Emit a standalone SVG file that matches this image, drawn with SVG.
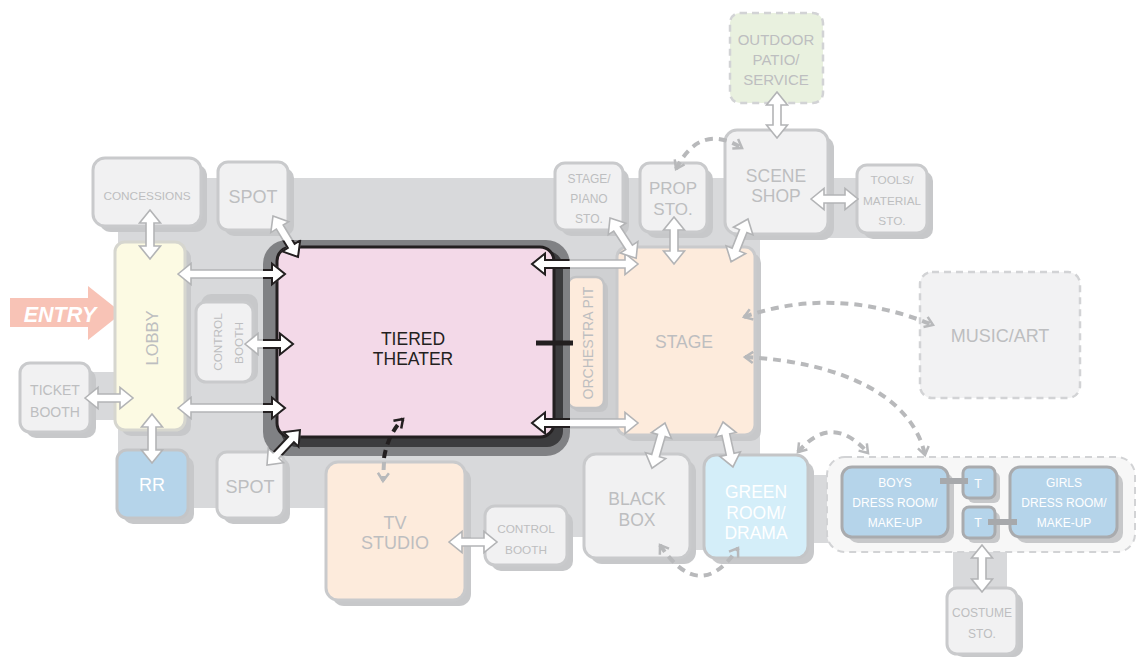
<svg xmlns="http://www.w3.org/2000/svg" xmlns:xlink="http://www.w3.org/1999/xlink" width="1143" height="658" viewBox="0 0 1143 658">
<style>
text{font-family:"Liberation Sans",Arial,sans-serif;text-anchor:middle}
.t{fill:#bdbec0}
.w{fill:#ffffff}
.box{fill:#f1f1f2;stroke:#c9cacc;stroke-width:3}
.sh{fill:#c7c8ca}
.peach{fill:#fdebdc;stroke:#c9cacc;stroke-width:3}
.blue{fill:#b5d4ea;stroke:#a9abae;stroke-width:3}
.dsh{fill:none;stroke:#b8b9bb;stroke-width:4;stroke-dasharray:8 6}
.arr{fill:#ffffff;stroke:#b3b4b6;stroke-width:1.6;stroke-linejoin:miter}
.arrb{fill:#ffffff;stroke:#231f20;stroke-width:2;stroke-linejoin:miter}
</style>
<defs>
<polygon id="a46" points="0,0 13,-10.5 13,-4 33,-4 33,-10.5 46,0 33,10.5 33,4 13,4 13,10.5"/>
<polygon id="a47" points="0,0 13,-10.5 13,-4 34,-4 34,-10.5 47,0 34,10.5 34,4 13,4 13,10.5"/>
<polygon id="a48" points="0,0 13,-10.5 13,-4 35,-4 35,-10.5 48,0 35,10.5 35,4 13,4 13,10.5"/>
<polygon id="a49" points="0,0 13,-10.5 13,-4 36,-4 36,-10.5 49,0 36,10.5 36,4 13,4 13,10.5"/>
<polygon id="a106" points="0,0 13,-10.5 13,-4 93,-4 93,-10.5 106,0 93,10.5 93,4 13,4 13,10.5"/>
<polygon id="a107" points="0,0 13,-10.5 13,-4 94,-4 94,-10.5 107,0 94,10.5 94,4 13,4 13,10.5"/>
<clipPath id="thClip"><rect x="263" y="240" width="307" height="216" rx="24"/></clipPath>
<marker id="mg" viewBox="0 0 14 14" refX="11" refY="7" markerWidth="14" markerHeight="14" markerUnits="userSpaceOnUse" orient="auto-start-reverse"><path d="M3,1.5 L11,7 L3,12.5" fill="none" stroke="#b8b9bb" stroke-width="2.5"/></marker>
<marker id="mb" viewBox="0 0 14 14" refX="11" refY="7" markerWidth="14" markerHeight="14" markerUnits="userSpaceOnUse" orient="auto-start-reverse"><path d="M3,1.5 L11,7 L3,12.5" fill="none" stroke="#231f20" stroke-width="2.5"/></marker>
</defs>

<g id="background" fill="#d8d9db">
<polygon points="118,178 880,178 880,238 760,238 760,470 812,470 812,475 840,475 840,543 812,543 812,550 583,550 583,537 465,537 465,508 118,508"/>
<rect x="88" y="372" width="32" height="48"/>
<rect x="953" y="548" width="54" height="46"/>
<rect x="560" y="267" width="58" height="161" fill="#cfd0d2" stroke="#c2c3c5" stroke-width="1.5"/>
</g>

<g id="entry">
<polygon points="10,298 88,298 88,286 122,313 88,340 88,327 10,327" fill="#f8c3b6"/>
<text x="60" y="322" class="w" font-size="21.5" font-weight="bold" font-style="italic">ENTRY</text>
</g>

<g id="outdoor">
<rect x="730" y="13" width="93" height="90" rx="10" fill="#e9f1df" stroke="#d2d3d5" stroke-width="2.5" stroke-dasharray="7 5"/>
<text x="776" y="45" class="t" font-size="15">OUTDOOR</text>
<text x="776" y="65" class="t" font-size="15">PATIO/</text>
<text x="776" y="85" class="t" font-size="15">SERVICE</text>
</g>

<g id="scene-shop">
<rect x="731" y="136" width="103" height="104" rx="12" class="sh"/>
<rect x="725" y="130" width="103" height="104" rx="12" class="box"/>
<text x="776" y="182" class="t" font-size="17.5">SCENE</text>
<text x="776" y="202" class="t" font-size="17.5">SHOP</text>
</g>

<g id="prop-sto">
<rect x="646" y="169" width="67" height="69" rx="10" class="sh"/>
<rect x="640" y="163" width="67" height="69" rx="10" class="box"/>
<text x="673" y="194" class="t" font-size="17">PROP</text>
<text x="673" y="215" class="t" font-size="17">STO.</text>
</g>

<g id="stage-piano-sto">
<rect x="561" y="169" width="68" height="67" rx="10" class="sh"/>
<rect x="555" y="163" width="68" height="67" rx="10" class="box"/>
<text x="589" y="183" class="t" font-size="12">STAGE/</text>
<text x="589" y="203" class="t" font-size="12">PIANO</text>
<text x="589" y="223" class="t" font-size="12">STO.</text>
</g>

<g id="tools-sto">
<rect x="863" y="171" width="70" height="68" rx="10" class="sh"/>
<rect x="857" y="165" width="70" height="68" rx="10" class="box"/>
<text x="892" y="184" class="t" font-size="11.8">TOOLS/</text>
<text x="892" y="205" class="t" font-size="11.8">MATERIAL</text>
<text x="892" y="225" class="t" font-size="11.8">STO.</text>
</g>

<g id="concessions">
<rect x="99" y="164" width="108" height="68" rx="12" class="sh"/>
<rect x="93" y="158" width="108" height="68" rx="12" class="box"/>
<text x="147" y="200" class="t" font-size="11.8">CONCESSIONS</text>
</g>

<g id="spot-top">
<rect x="224" y="168" width="70" height="68" rx="10" class="sh"/>
<rect x="218" y="162" width="70" height="68" rx="10" class="box"/>
<text x="253" y="203" class="t" font-size="18">SPOT</text>
</g>

<g id="lobby">
<rect x="121" y="248" width="70" height="188" rx="10" class="sh"/>
<rect x="115" y="242" width="70" height="188" rx="10" fill="#fcfae3" stroke="#d6d6cf" stroke-width="3"/>
<text transform="translate(158,338) rotate(-90)" class="t" font-size="16.5">LOBBY</text>
</g>

<g id="ticket-booth">
<rect x="26" y="369" width="70" height="69" rx="10" class="sh"/>
<rect x="20" y="363" width="70" height="69" rx="10" class="box"/>
<text x="55" y="395" class="t" font-size="14">TICKET</text>
<text x="55" y="417" class="t" font-size="14">BOOTH</text>
</g>

<g id="control-booth-left">
<rect x="201" y="294" width="57" height="88" rx="10" class="sh"/>
<rect x="196" y="302" width="57" height="80" rx="10" class="box"/>
<text transform="translate(222,342) rotate(-90)" class="t" font-size="11.8">CONTROL</text>
<text transform="translate(243,343) rotate(-90)" class="t" font-size="11.8">BOOTH</text>
</g>

<g id="rr">
<rect x="123" y="456" width="71" height="68" rx="10" class="sh"/>
<rect x="117" y="450" width="71" height="68" rx="10" fill="#b5d4ea" stroke="#c4c5c7" stroke-width="3"/>
<text x="152" y="491" class="w" font-size="18">RR</text>
</g>

<g id="spot-bottom">
<rect x="223" y="458" width="67" height="66" rx="10" class="sh"/>
<rect x="217" y="452" width="67" height="66" rx="10" class="box"/>
<text x="250" y="493" class="t" font-size="18">SPOT</text>
</g>

<g id="orchestra-pit">
<rect x="572" y="281" width="36" height="131" rx="8" fill="#c4c5c7"/>
<rect x="568" y="277" width="36" height="131" rx="8" fill="#fdebdc" stroke="#c2c3c5" stroke-width="2.5"/>
<text transform="translate(593,343) rotate(-90)" class="t" font-size="14">ORCHESTRA PIT</text>
</g>

<g id="tiered-theater">
<rect x="263" y="240" width="307" height="216" rx="24" fill="#808184"/>
<rect x="281" y="251" width="282" height="196" rx="16" fill="#3c3c3e"/>
<rect x="277" y="247" width="277" height="190" rx="14" fill="#f3d9e8" stroke="#231f20" stroke-width="3"/>
<text x="413" y="345" font-size="17.5" fill="#231f20">TIERED</text>
<text x="413" y="365" font-size="17.5" fill="#231f20">THEATER</text>
</g>

<g id="stage">
<rect x="623" y="253" width="138" height="188" rx="10" class="sh"/>
<rect x="617" y="247" width="138" height="188" rx="10" class="peach"/>
<text x="684" y="348" class="t" font-size="17.5">STAGE</text>
</g>

<g id="music-art">
<rect x="920" y="272" width="160" height="126" rx="12" fill="#f2f2f3" stroke="#d2d3d5" stroke-width="2.5" stroke-dasharray="7 5"/>
<text x="1000" y="342" class="t" font-size="18">MUSIC/ART</text>
</g>

<g id="black-box">
<rect x="590" y="460" width="106" height="104" rx="12" class="sh"/>
<rect x="584" y="454" width="106" height="104" rx="12" class="box"/>
<text x="637" y="505" class="t" font-size="17.5">BLACK</text>
<text x="637" y="526" class="t" font-size="17.5">BOX</text>
</g>

<g id="green-room">
<rect x="710" y="461" width="104" height="103" rx="12" class="sh"/>
<rect x="704" y="455" width="104" height="103" rx="12" fill="#d4eef9" stroke="#c4c5c7" stroke-width="3"/>
<text x="756" y="498" class="w" font-size="17.5">GREEN</text>
<text x="756" y="519" class="w" font-size="17.5">ROOM/</text>
<text x="756" y="539" class="w" font-size="17.5">DRAMA</text>
</g>

<g id="dressing-area">
<rect x="827" y="457" width="308" height="95" rx="18" fill="#f7f7f7" stroke="#d2d3d5" stroke-width="2" stroke-dasharray="7 5"/>
</g>

<g id="boys-dress">
<rect x="848" y="473" width="106" height="70" rx="10" class="sh"/>
<rect x="842" y="467" width="106" height="70" rx="10" class="blue"/>
<text x="895" y="487" class="w" font-size="12">BOYS</text>
<text x="895" y="507" class="w" font-size="12">DRESS ROOM/</text>
<text x="895" y="527" class="w" font-size="12">MAKE-UP</text>
</g>

<g id="toilet-top">
<rect x="968" y="472" width="32" height="31" rx="6" class="sh"/>
<rect x="963" y="467" width="32" height="31" rx="6" class="blue"/>
<text x="978" y="488" class="w" font-size="12.5">T</text>
</g>

<g id="toilet-bottom">
<rect x="968" y="512" width="32" height="31" rx="6" class="sh"/>
<rect x="963" y="507" width="32" height="31" rx="6" class="blue"/>
<text x="978" y="527" class="w" font-size="12.5">T</text>
</g>

<g id="girls-dress">
<rect x="1016" y="473" width="107" height="70" rx="10" class="sh"/>
<rect x="1010" y="467" width="107" height="70" rx="10" class="blue"/>
<text x="1064" y="487" class="w" font-size="12">GIRLS</text>
<text x="1064" y="507" class="w" font-size="12">DRESS ROOM/</text>
<text x="1064" y="527" class="w" font-size="12">MAKE-UP</text>
</g>

<g id="costume-sto">
<rect x="953" y="593" width="70" height="64" rx="10" class="sh"/>
<rect x="947" y="588" width="70" height="66" rx="10" class="box"/>
<text x="982" y="617" class="t" font-size="12">COSTUME</text>
<text x="982" y="638" class="t" font-size="12">STO.</text>
</g>

<g id="tv-studio">
<rect x="332" y="468" width="139" height="138" rx="12" class="sh"/>
<rect x="326" y="462" width="139" height="138" rx="12" class="peach"/>
<text x="395" y="529" class="t" font-size="18">TV</text>
<text x="395" y="549" class="t" font-size="18">STUDIO</text>
</g>

<g id="control-booth-bottom">
<rect x="491" y="512" width="82" height="59" rx="10" class="sh"/>
<rect x="485" y="506" width="82" height="59" rx="10" class="box"/>
<text x="526" y="533" class="t" font-size="11.8">CONTROL</text>
<text x="526" y="554" class="t" font-size="11.8">BOOTH</text>
</g>

<g id="connectors">
<line x1="536" y1="343" x2="573" y2="343" stroke="#231f20" stroke-width="5"/>
<line x1="940" y1="481" x2="968" y2="481" stroke="#a7a9ac" stroke-width="6"/>
<line x1="988" y1="522" x2="1017" y2="522" stroke="#a7a9ac" stroke-width="6"/>

<g class="arr">
<use href="#a49" transform="translate(150,210) rotate(90)"/>
<use href="#a107" transform="translate(178,274)"/>
<use href="#a48" transform="translate(245,344)"/>
<use href="#a107" transform="translate(178,408)"/>
<use href="#a48" transform="translate(85,398)"/>
<use href="#a49" transform="translate(152,414) rotate(90)"/>
<use href="#a48" transform="translate(273,216) rotate(58.6)"/>
<use href="#a48" transform="translate(267,465) rotate(-46.7)"/>
<use href="#a106" transform="translate(532,264)"/>
<use href="#a106" transform="translate(532,423)"/>
<use href="#a48" transform="translate(610,218) rotate(57)"/>
<use href="#a47" transform="translate(674,217) rotate(90)"/>
<use href="#a46" transform="translate(748,219) rotate(111.6)"/>
<use href="#a46" transform="translate(777,92) rotate(90)"/>
<use href="#a47" transform="translate(811,199)"/>
<use href="#a47" transform="translate(665,423) rotate(106.1)"/>
<use href="#a46" transform="translate(723,422) rotate(77.5)"/>
<use href="#a48" transform="translate(449,542)"/>
<use href="#a47" transform="translate(982,545) rotate(90)"/>
</g>
<g class="arrb" clip-path="url(#thClip)">
<use href="#a107" transform="translate(178,274)"/>
<use href="#a48" transform="translate(245,344)"/>
<use href="#a107" transform="translate(178,408)"/>
<use href="#a48" transform="translate(273,216) rotate(58.6)"/>
<use href="#a48" transform="translate(267,465) rotate(-46.7)"/>
<use href="#a106" transform="translate(532,264)"/>
<use href="#a106" transform="translate(532,423)"/>
</g>

<path class="dsh" d="M676,169 Q700,122 742,148" marker-start="url(#mg)" marker-end="url(#mg)"/>
<path class="dsh" d="M744,317 Q835,285 933,325" marker-start="url(#mg)" marker-end="url(#mg)"/>
<path class="dsh" d="M745,357 C840,362 912,395 925,455" marker-start="url(#mg)" marker-end="url(#mg)"/>
<path class="dsh" d="M798,452 Q832,412 868,453" marker-start="url(#mg)" marker-end="url(#mg)"/>
<path class="dsh" d="M660,545 Q700,605 738,548" marker-start="url(#mg)" marker-end="url(#mg)"/>
<path d="M384,458 Q388,434 403,419" fill="none" stroke="#231f20" stroke-width="4" stroke-dasharray="8 6" marker-end="url(#mb)"/>
<path class="dsh" d="M384,462 L383,481" marker-end="url(#mg)"/>
</g>
</svg>
